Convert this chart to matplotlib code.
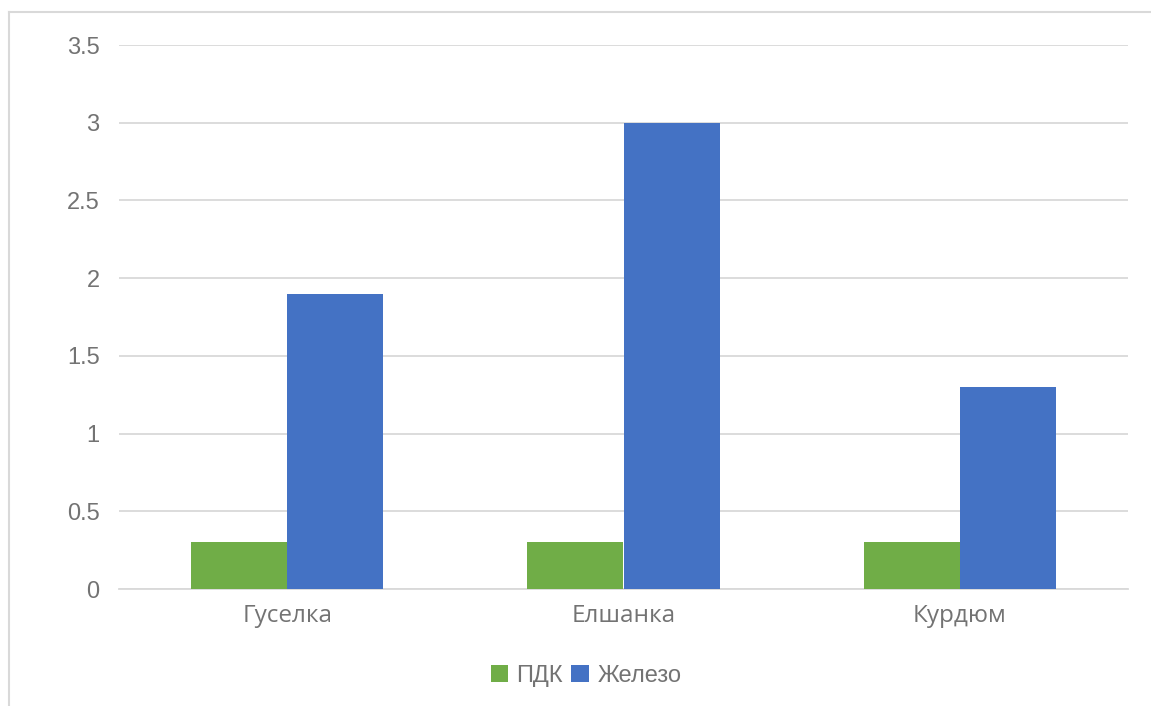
import numpy as np
import matplotlib.pyplot as plt
from matplotlib.lines import Line2D

# --- Data ---
rivers = ["Гуселка", "Елшанка", "Курдюм"]
pdk = [0.3, 0.3, 0.3]
iron = [1.9, 3.0, 1.3]
y_ticks = [0, 0.5, 1, 1.5, 2, 2.5, 3, 3.5]

green = "#70AD47"
blue = "#4472C4"
grey_text = "#737373"

fig = plt.figure(figsize=(11.51, 7.06), dpi=100)
ax = fig.add_axes([119 / 1151, 1 - 589 / 706, (1128 - 119) / 1151, (589 - 45) / 706])

x = np.arange(len(rivers))
w = 0.286
ax.bar(x - w / 2, pdk, w, color=green, label="ПДК", zorder=3)
ax.bar(x + w / 2, iron, w, color=blue, label="Железо", zorder=3)

ax.set_xlim(-0.5, len(rivers) - 0.5)
ax.set_ylim(0, 3.5)
ax.set_yticks(y_ticks)
ax.set_yticklabels([f"{t:g}" for t in y_ticks], family="Liberation Sans",
                   fontsize=17, color=grey_text)
ax.set_xticks(x)
ax.set_xticklabels(rivers, family="Open Sans", fontsize=17.5, color=grey_text)
ax.tick_params(axis="both", length=0)
ax.tick_params(axis="y", pad=14)
ax.tick_params(axis="x", pad=11)

ax.grid(axis="y", color="#D9D9D9", linewidth=1.3, zorder=0)
for s in ["top", "right", "left"]:
    ax.spines[s].set_visible(False)
ax.spines["bottom"].set_color("#D9D9D9")
ax.spines["bottom"].set_linewidth(1.3)

leg = fig.legend(loc="center", bbox_to_anchor=(586 / 1151, 1 - 676 / 706), ncol=2,
                 frameon=False, handlelength=0.75, handleheight=0.75,
                 handletextpad=0.35, columnspacing=0.35,
                 prop={"family": "Liberation Sans", "size": 17})
for t in leg.get_texts():
    t.set_color(grey_text)

# рамка диаграммы (видны только верх и лево)
fig.add_artist(Line2D([9 / 1151, 1], [1 - 12 / 706, 1 - 12 / 706],
                      transform=fig.transFigure, color="#D9D9D9", linewidth=1.5))
fig.add_artist(Line2D([9 / 1151, 9 / 1151], [0, 1 - 12 / 706],
                      transform=fig.transFigure, color="#D9D9D9", linewidth=1.5))

fig.savefig("out.png", dpi=100)
